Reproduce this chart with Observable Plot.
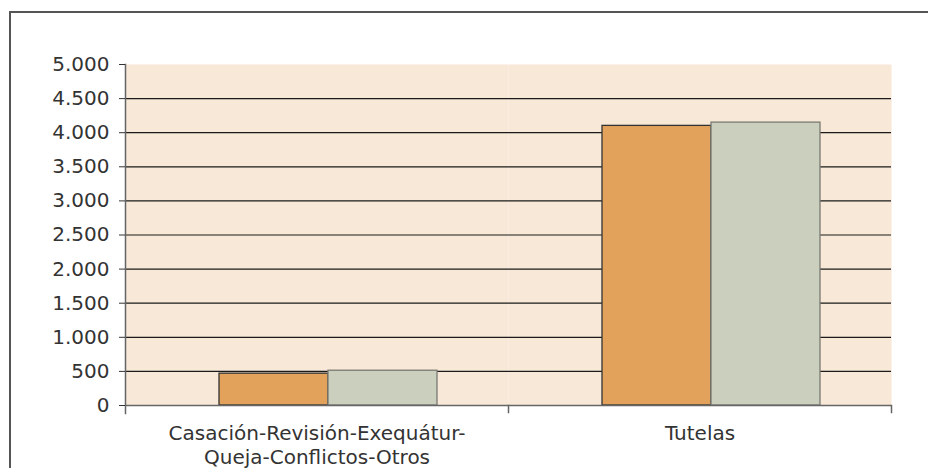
<!DOCTYPE html>
<html><head><meta charset="utf-8">
<script src="https://cdn.jsdelivr.net/npm/d3@7"></script>
<script src="https://cdn.jsdelivr.net/npm/@observablehq/plot@0.6"></script>
<style>
html,body{margin:0;padding:0;background:#fff;}
#wrap{position:relative;width:928px;height:468px;overflow:hidden;}
#border{position:absolute;left:9px;top:11px;width:940px;height:480px;border-top:2px solid #555;border-left:2px solid #555;}
#chart{position:absolute;left:0;top:0;}
</style></head><body>
<div id="wrap"><div id="border"></div><div id="chart"></div></div>
<script>
const categories = ["Casación-Revisión-Exequátur-\nQueja-Conflictos-Otros", "Tutelas"];
const series = ["Serie 1", "Serie 2"];
const valuesSerie1 = [467, 4100];
const valuesSerie2 = [510, 4148];
const yTicks = [0, 500, 1000, 1500, 2000, 2500, 3000, 3500, 4000, 4500, 5000];
const colors = ["#E2A25C", "#CBCFBE"];
const strokes = ["#333333", "#7a7a72"];
const bg = "#F7E8D7";

const W = 928, H = 468, mT = 64, mB = 63, mL = 125, mR = 37;
const innerH = H - mT - mB;
const fmt = d3.formatLocale({decimal: ",", thousands: ".", grouping: [3], currency: ["", ""]}).format(",");

const rows = categories.flatMap((c, i) => [
  {cat: c, serie: series[0], value: valuesSerie1[i]},
  {cat: c, serie: series[1], value: valuesSerie2[i]}
]);

const chart = Plot.plot({
  width: W, height: H,
  marginTop: mT, marginBottom: mB, marginLeft: mL, marginRight: mR,
  style: {fontFamily: "DejaVu Sans", fontSize: "20px", color: "#333", background: "transparent"},
  fx: {domain: categories, padding: 0, label: null},
  x: {domain: series, paddingInner: 0, paddingOuter: 0.749, align: 0.569, axis: null},
  y: {domain: [0, 5000], label: null},
  color: {domain: series, range: colors},
  marks: [
    Plot.frame({fill: bg, stroke: "none"}),
    Plot.gridY(yTicks.filter(v => v > 0 && v < 5000), {stroke: "#1a1a1a", strokeOpacity: 1, strokeWidth: 1.2}),
    Plot.barY(rows.filter(d => d.serie === series[0]), {fx: "cat", x: "serie", y: "value", fill: "serie", stroke: strokes[0], strokeWidth: 1.3}),
    Plot.barY(rows.filter(d => d.serie === series[1]), {fx: "cat", x: "serie", y: "value", fill: "serie", stroke: strokes[1], strokeWidth: 1.3}),
    Plot.ruleY([0], {stroke: "#666", strokeWidth: 1.5}),
    Plot.frame({anchor: "right", insetTop: innerH, insetBottom: -7, stroke: "#666", strokeWidth: 1.5}),
    Plot.frame({anchor: "left", facet: "super", insetBottom: -8, stroke: "#666", strokeWidth: 1.5}),
    Plot.axisY(yTicks, {tickSize: 6, tickPadding: 10, tickFormat: fmt, stroke: "#333", fill: "#333", label: null, fontSize: 20}),
    Plot.axisFx({anchor: "bottom", tickSize: 0, tickPadding: 17, label: null, lineHeight: 1.2, fontSize: 20, fill: "#333"})
  ]
});
document.getElementById("chart").appendChild(chart);
</script>
</body></html>
